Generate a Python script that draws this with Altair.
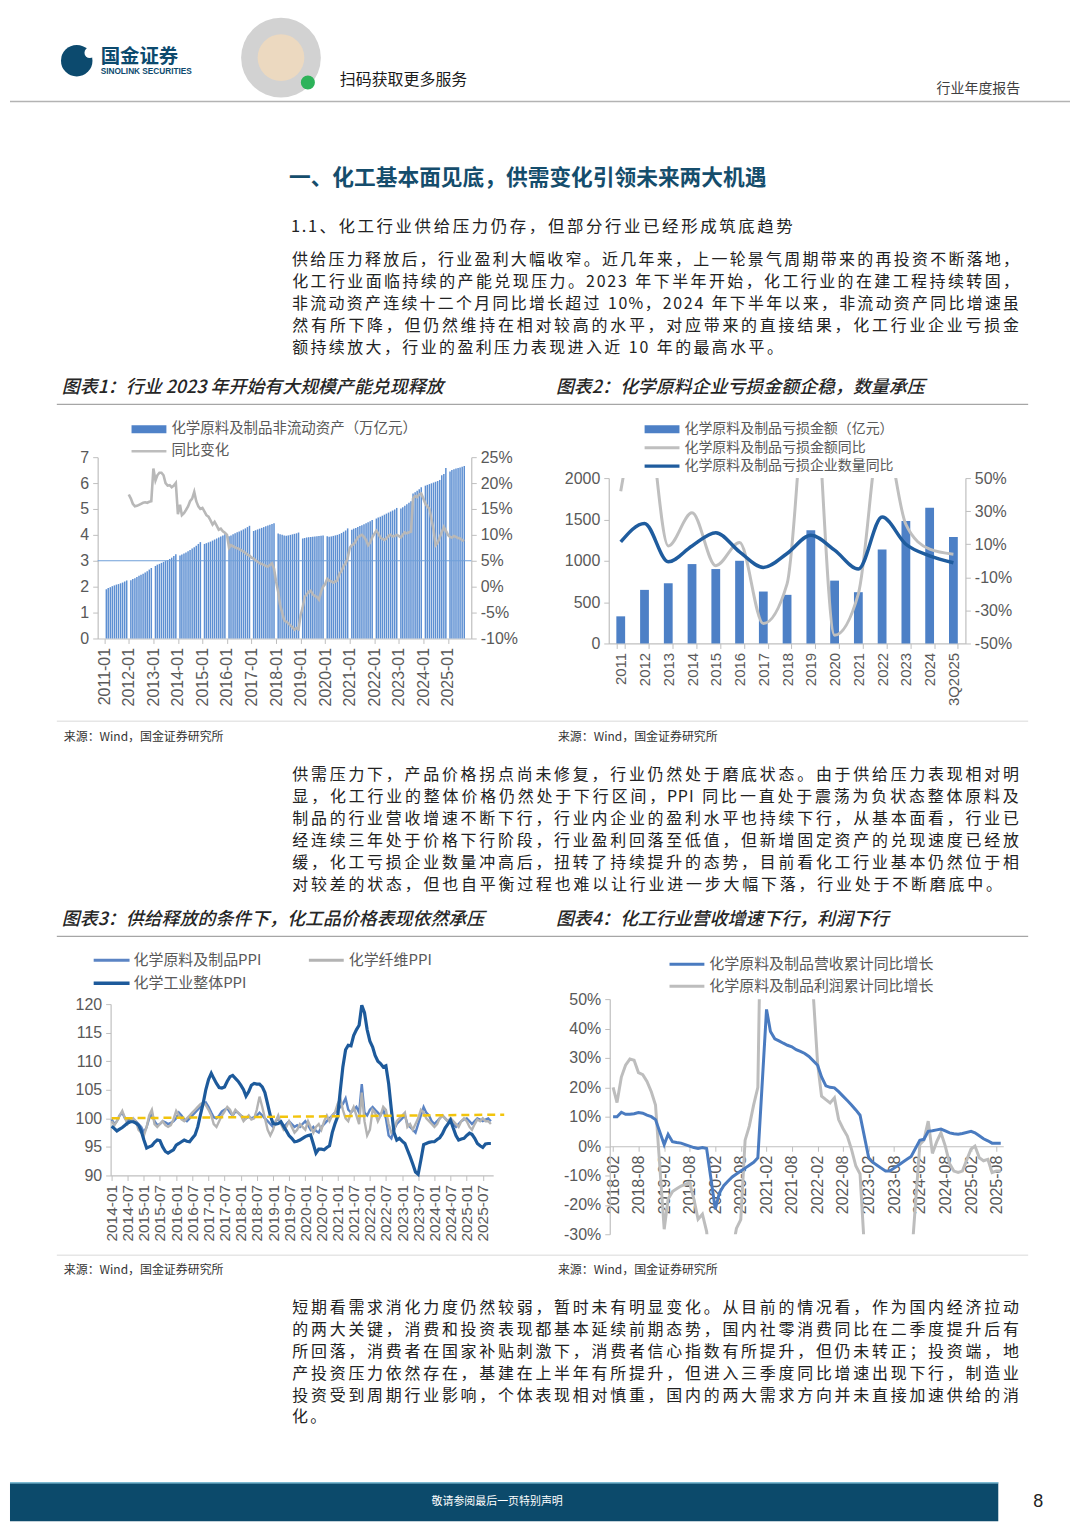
import altair as alt
import pandas as pd

CN = "Noto Sans CJK SC"
NUM = "Liberation Sans"
LBL = "#595959"
AXC = "#bfbfbf"
INK = "#222222"

# ------------------------------------------------------------------ page text
title_text = "一、化工基本面见底，供需变化引领未来两大机遇"
subtitle_text = "1.1、化工行业供给压力仍存，但部分行业已经形成筑底趋势"
para1 = [
    "供给压力释放后，行业盈利大幅收窄。近几年来，上一轮景气周期带来的再投资不断落地，",
    "化工行业面临持续的产能兑现压力。2023 年下半年开始，化工行业的在建工程持续转固，",
    "非流动资产连续十二个月同比增长超过 10%，2024 年下半年以来，非流动资产同比增速虽",
    "然有所下降，但仍然维持在相对较高的水平，对应带来的直接结果，化工行业企业亏损金",
    "额持续放大，行业的盈利压力表现进入近 10 年的最高水平。",
]
para2 = [
    "供需压力下，产品价格拐点尚未修复，行业仍然处于磨底状态。由于供给压力表现相对明",
    "显，化工行业的整体价格仍然处于下行区间，PPI 同比一直处于震荡为负状态整体原料及",
    "制品的行业营收增速不断下行，行业内企业的盈利水平也持续下行，从基本面看，行业已",
    "经连续三年处于价格下行阶段，行业盈利回落至低值，但新增固定资产的兑现速度已经放",
    "缓，化工亏损企业数量冲高后，扭转了持续提升的态势，目前看化工行业基本仍然位于相",
    "对较差的状态，但也自平衡过程也难以让行业进一步大幅下落，行业处于不断磨底中。",
]
para3 = [
    "短期看需求消化力度仍然较弱，暂时未有明显变化。从目前的情况看，作为国内经济拉动",
    "的两大关键，消费和投资表现都基本延续前期态势，国内社零消费同比在二季度提升后有",
    "所回落，消费者在国家补贴刺激下，消费者信心指数有所提升，但仍未转正；投资端，地",
    "产投资压力依然存在，基建在上半年有所提升，但进入三季度同比增速出现下行，制造业",
    "投资受到周期行业影响，个体表现相对慎重，国内的两大需求方向并未直接加速供给的消",
    "化。",
]
cap1 = "图表1：行业 2023 年开始有大规模产能兑现释放"
cap2 = "图表2：化学原料企业亏损金额企稳，数量承压"
cap3 = "图表3：供给释放的条件下，化工品价格表现依然承压"
cap4 = "图表4：化工行业营收增速下行，利润下行"
source_text = "来源：Wind，国金证券研究所"

# ------------------------------------------------------------------ chart 1 data
asset_values = [  # Feb-Dec each year (万亿元)
    1.90, 1.95, 1.98, 2.02, 2.05, 2.08, 2.10, 2.13, 2.16, 2.20, 2.24,  # 2011
    2.25, 2.30, 2.33, 2.37, 2.42, 2.46, 2.50, 2.55, 2.60, 2.66, 2.72,  # 2012
    2.80, 2.85, 2.88, 2.92, 2.96, 3.00, 3.03, 3.07, 3.12, 3.18, 3.25,  # 2013
    3.20, 3.24, 3.28, 3.32, 3.37, 3.42, 3.47, 3.52, 3.58, 3.65, 3.72,  # 2014
    3.65, 3.68, 3.71, 3.74, 3.78, 3.82, 3.86, 3.90, 3.94, 3.98, 4.02,  # 2015
    3.95, 3.98, 4.02, 4.06, 4.10, 4.13, 4.17, 4.21, 4.25, 4.30, 4.35,  # 2016
    4.15, 4.18, 4.21, 4.24, 4.27, 4.30, 4.33, 4.36, 4.39, 4.42, 4.45,  # 2017
    4.05, 4.02, 4.00, 3.98, 3.97, 3.98, 4.00, 4.02, 4.04, 4.06, 4.09,  # 2018
    3.86, 3.88, 3.90, 3.91, 3.92, 3.93, 3.94, 3.95, 3.96, 3.97, 3.98,  # 2019
    3.95, 3.93, 3.94, 3.96, 3.98, 4.00, 4.03, 4.07, 4.12, 4.17, 4.25,  # 2020
    4.20, 4.24, 4.27, 4.30, 4.34, 4.37, 4.41, 4.45, 4.49, 4.53, 4.57,  # 2021
    4.63, 4.67, 4.70, 4.74, 4.78, 4.82, 4.86, 4.90, 4.94, 4.98, 5.04,  # 2022
    5.02, 5.07, 5.12, 5.18, 5.24, 5.30, 5.60, 5.65, 5.70, 5.76, 5.84,  # 2023
    5.90, 5.93, 5.96, 5.99, 6.02, 6.05, 6.08, 6.12, 6.30, 6.35, 6.58,  # 2024
    6.45, 6.50, 6.53, 6.56, 6.58, 6.60, 6.63, 6.66,                    # 2025 Feb-Sep
]
asset_yoy = [  # monthly from 2012-01 (%)
    17.8, 17.0, 16.0, 15.5, 15.6, 15.8, 16.0, 16.2, 16.3, 16.2, 16.4, 16.5,
    22.8, 20.5, 21.5, 22.0, 22.0, 21.5, 20.0, 19.5, 19.6, 19.2, 19.5, 20.0,
    14.0, 15.8, 13.8, 14.2, 14.8, 15.5, 16.5, 17.0, 18.3, 16.5, 15.5, 15.0,
    15.2, 14.5, 13.8, 13.5, 12.8, 12.0, 12.5, 11.8, 11.0, 11.2, 10.7, 10.4,
    10.0, 7.5, 8.0, 7.8, 7.6, 7.4, 7.3, 7.0, 6.8, 6.5, 6.2, 6.0,
    5.6, 5.4, 5.1, 4.8, 4.5, 4.4, 4.2, 4.0, 3.9, 4.2, 4.5, 3.5,
    1.0, -1.0, -3.5, -5.0, -6.5, -6.8, -7.0, -7.5, -7.8, -8.3, -8.0, -8.2,
    -5.5, -4.0, -2.0, -1.5, -1.0, -0.8, -1.5, -1.8, -2.0, -2.5, -1.0, 0.0,
    0.5, 1.5, 1.2, 1.0, 0.8, 1.0, 1.2, 2.5, 3.0, 4.0, 4.5, 5.5,
    7.5, 8.0, 8.2, 8.8, 9.5, 9.8, 10.0, 9.6, 9.0, 8.0, 8.5, 9.5,
    10.2, 10.8, 10.3, 9.5, 9.2, 9.0, 9.3, 9.8, 10.0, 9.7, 9.8, 10.0,
    9.8, 9.5, 10.0, 10.5, 10.3, 10.5, 10.6, 17.0, 17.5, 17.3, 17.8, 18.0,
    17.0, 16.0, 15.5, 15.0, 13.0, 11.0, 8.0, 8.5, 9.5, 10.5, 11.5, 10.8,
    10.0, 9.6, 9.5, 9.8, 9.6, 9.4, 9.3, 9.0, 8.8,
]
ref_line_value = [3]

# ------------------------------------------------------------------ chart 2 data
years2 = ["2011", "2012", "2013", "2014", "2015", "2016", "2017", "2018",
          "2019", "2020", "2021", "2022", "2023", "2024", "3Q2025"]
loss_amount = [328, 648, 728, 960, 900, 1000, 628, 588, 1368, 760, 620, 1136, 1480, 1640, 1288]
loss_amount_yoy = [42, 98, 9, 29, -3, 11, -38, -14, 130, -45, -20, 83, 22, 7, 4]
loss_count_yoy = [11.4, 22.6, -0.6, 9.0, 17.0, 5.4, -4.0, 4.4, 15.4, 6.4, -5.0, 26.4, 10.0, 3.0, -1.2]

# ------------------------------------------------------------------ chart 3 data (monthly from 2014-01)
ppi_raw = [
    99.8, 99.0, 99.5, 100.5, 101.0, 100.0, 99.5, 100.0, 99.8, 99.5, 99.0, 98.5,
    97.5, 98.5, 100.0, 100.8, 99.5, 98.8, 99.0, 99.5, 99.3, 99.0, 99.2, 99.5,
    100.0, 101.0, 100.5, 99.8, 99.5, 100.0, 100.5, 101.0, 101.5, 102.0, 102.5, 102.8,
    102.0, 101.0, 100.2, 100.0, 100.5, 101.2, 101.5, 101.8, 101.0, 100.5, 101.2, 101.0,
    100.5, 100.2, 100.0, 100.3, 100.0, 100.2, 100.5, 101.0, 100.5, 100.0, 99.5, 99.0,
    98.5, 99.5, 100.0, 99.2, 98.5, 99.0, 99.5, 99.0, 98.5, 98.8, 98.5, 99.0,
    99.5, 98.8, 98.0, 98.5, 97.8, 97.5, 98.5, 99.0, 99.5, 100.0, 100.5, 101.0,
    101.5, 102.0, 102.5, 103.5, 101.5, 101.0, 101.5, 102.0, 101.0, 106.0, 101.0, 100.5,
    101.5, 102.0, 101.5, 101.0, 100.5, 101.5, 100.0, 97.0, 96.5, 98.0, 99.0, 99.5,
    100.0, 100.5, 99.0, 98.5, 98.0, 97.5, 99.0, 100.5, 102.0, 101.0, 100.5, 99.5,
    99.0, 99.5, 100.0, 100.5, 100.0, 99.5, 99.5, 99.0, 98.5, 99.0, 99.5, 99.8,
    100.0, 99.5, 99.0, 99.5, 100.0, 99.8, 99.5, 99.8, 100.0, 99.5,
]
ppi_fiber = [
    99.5, 98.8, 99.5, 100.5, 101.3, 100.0, 99.0, 99.5, 100.0, 99.5, 98.0, 97.5,
    97.0, 98.5, 100.5, 101.5, 99.0, 98.5, 99.0, 99.5, 98.8, 98.5, 98.8, 99.8,
    101.3, 100.5, 99.8, 99.5, 100.0, 100.5, 101.0, 101.5, 102.0, 102.5, 102.8, 102.3,
    101.5, 100.5, 99.0, 98.5, 99.5, 100.5, 101.2, 102.0, 101.5, 100.5, 101.5, 101.0,
    100.5, 99.5, 100.0, 100.5, 99.8, 100.0, 101.5, 103.8, 102.0, 100.0, 98.0, 97.0,
    98.0, 99.5, 100.5, 99.0, 98.0, 98.5, 99.5, 98.5, 97.5, 98.0, 99.0, 98.5,
    98.0, 99.5, 98.5, 97.5, 98.5, 99.0, 98.0, 99.5, 100.5, 99.5, 100.5, 101.0,
    102.5, 103.5, 101.5, 100.0, 99.5, 101.0, 102.0, 100.5, 99.0, 104.5, 99.5, 97.0,
    98.0, 101.5, 101.0, 99.5, 100.5, 102.0, 101.5, 99.0, 97.5, 98.0, 99.5, 100.0,
    100.5, 101.0, 98.5, 99.0, 98.0, 99.0, 100.0, 101.5, 101.0, 100.0, 99.5, 99.0,
    98.5, 99.0, 100.0, 100.5, 100.0, 99.5, 100.0, 99.5, 99.0, 98.5, 99.5, 100.0,
    99.5, 98.5, 98.0, 99.0, 99.8, 99.5, 100.0, 99.5, 99.5, 99.0,
]
ppi_total = [
    98.6, 98.2, 97.8, 98.1, 98.4, 98.8, 99.2, 99.4, 99.4, 99.2, 98.8, 97.8,
    96.2, 94.8, 95.0, 95.2, 95.8, 96.2, 96.1, 95.0, 94.2, 93.9, 94.2, 94.5,
    95.3, 95.6, 95.9, 96.2, 96.0, 95.9, 96.5, 97.1, 98.5, 100.6, 102.6, 105.0,
    106.8, 107.9, 107.0, 106.1, 105.4, 105.3, 105.5, 106.5, 107.3, 107.5, 107.0, 106.5,
    105.8, 105.0, 103.9, 104.7, 105.8, 106.1, 106.0, 106.0, 105.5, 104.5, 102.5, 100.5,
    99.1, 99.0, 99.1, 99.4, 98.6, 97.8, 97.0, 96.5, 95.9, 96.0, 96.2, 96.5,
    96.8, 97.0, 97.1, 95.5, 93.9, 94.6, 94.6, 94.5, 94.9, 95.2, 97.5, 99.0,
    100.3, 105.0, 109.0, 112.0, 112.8, 112.7, 114.5, 115.5, 116.3, 119.8, 118.5, 115.5,
    113.5, 112.5, 111.0, 110.0, 109.6, 109.0, 109.2, 106.1, 101.5, 97.5, 96.2, 96.5,
    96.0, 95.6, 94.5, 93.3, 92.0, 90.6, 90.2, 92.7, 95.4, 95.6, 95.8, 95.9,
    95.9, 96.3, 96.6, 97.3, 98.3, 99.0, 99.7, 98.3, 97.0, 96.2, 96.4, 96.5,
    97.0, 97.4, 97.2, 96.5, 95.6, 95.2, 94.9, 95.5, 95.6, 95.6,
]
ppi_base_dates = ["2014-01-01", "2026-03-01"]
ppi_base_values = [100.0, 100.65]

# ------------------------------------------------------------------ chart 4 data (Feb-Dec each year from 2018-02)
revenue_yoy = [
    10.0, 10.0, 11.5, 10.8, 10.8, 11.0, 11.4, 11.2, 10.5, 10.0, 9.0,
    0.5, 4.0, 1.5, 1.2, 1.0, 0.5, 0.0, -0.5, -0.8, -0.5, -0.8,
    -21.5, -16.0, -13.5, -12.0, -10.5, -9.5, -8.5, -7.5, -6.5, -5.5, -4.0,
    46.5, 39.0, 36.5, 35.8, 35.0, 34.3, 33.8, 32.8, 32.2, 31.5, 30.5,
    27.5, 23.5, 20.5, 20.0, 19.8, 18.5, 17.0, 15.5, 14.0, 12.3, 10.5,
    -4.0, -5.5, -6.5, -7.5, -8.5, -8.5, -7.5, -6.5, -5.5, -4.5, -3.5,
    2.0, 2.3, 5.0, 5.2, 5.5, 5.8, 5.2, 4.5, 4.2, 4.0, 4.3,
    5.0, 4.5, 3.5, 2.5, 1.8, 1.0, 1.0, 1.0,
]
profit_yoy = [
    20.0, 14.8, 23.5, 27.5, 29.6, 29.2, 25.0, 24.3, 22.0, 18.5, 14.0,
    -28.3, -18.0, -15.5, -14.5, -13.6, -13.0, -12.4, -18.0, -24.9, -23.2, -29.0,
    -60.0, -55.0, -48.0, -42.0, -36.0, -28.0, -25.0, 2.0, 6.8, 14.0, 20.0,
    200.0, 150.0, 130.0, 120.0, 110.0, 100.0, 95.0, 90.0, 85.0, 80.0, 75.0,
    28.0, 17.0, 15.8, 14.7, 16.4, 9.0, 6.0, 3.4, -1.1, -6.8, -9.5,
    -60.0, -55.0, -52.0, -50.0, -48.0, -45.0, -42.0, -40.0, -38.0, -38.0, -40.0,
    0.5, 2.0, 8.5, -2.5, 1.5, 4.5, 0.0, -6.0, -8.5, -9.0, -8.5,
    -1.0, 0.0, -4.0, -5.0, -4.5, -9.0, -8.5, -8.5,
]


# ------------------------------------------------------------------ helpers
def months_no_jan(start_year, n):
    out, y, m = [], start_year, 2
    while len(out) < n:
        out.append(pd.Timestamp(year=y, month=m, day=1))
        m += 1
        if m > 12:
            y, m = y + 1, 2
    return out


def dt(y, m, d=1):
    return alt.DateTime(year=y, month=m, date=d)


ONE = pd.DataFrame({"a": [0]})


def txt(s, x, y, size=15, color=LBL, font=CN, align="left", weight="normal", style="normal"):
    return alt.Chart(pd.DataFrame({"t": [s]})).mark_text(
        align=align, baseline="middle", font=font, fontSize=size, color=color,
        fontWeight=weight, fontStyle=style,
    ).encode(x=alt.value(x), y=alt.value(y), text="t:N")


def hline(x1, x2, y, color, width=1.0):
    return alt.Chart(ONE).mark_rule(color=color, strokeWidth=width).encode(
        x=alt.value(x1), x2=alt.value(x2), y=alt.value(y))


def box(x1, x2, y1, y2, color):
    return alt.Chart(ONE).mark_rect(color=color).encode(
        x=alt.value(x1), x2=alt.value(x2), y=alt.value(y1), y2=alt.value(y2))


def dot(x, y, size, color):
    return alt.Chart(ONE).mark_point(filled=True, shape="circle", size=size, color=color, opacity=1,
                                     strokeWidth=0).encode(x=alt.value(x), y=alt.value(y))


def char_weight(c):
    if c == " ":
        return 0.35
    if c == "%":
        return 0.85
    if c in "I.":
        return 0.32
    if ord(c) < 128:
        return 0.58
    return 1.0


def layout_lines(lines, x0, ends, ys):
    rows = []
    for line, x1, y in zip(lines, ends, ys):
        ws = [char_weight(c) for c in line]
        pitch = (x1 - x0) / sum(ws)
        cum = 0.0
        for c, w in zip(line, ws):
            if c != " ":
                rows.append({"x": x0 + (cum + w / 2) * pitch, "y": y, "ch": c})
            cum += w
    return pd.DataFrame(rows)


def char_layer(df, size=16, color=INK, weight="normal"):
    return alt.Chart(df).mark_text(
        align="center", baseline="middle", font=CN, fontSize=size, color=color, fontWeight=weight,
    ).encode(x=alt.X("x:Q", scale=None, axis=None), y=alt.Y("y:Q", scale=None, axis=None), text="ch:N")


def ax_kw(size, orient):
    return dict(orient=orient, grid=False, domainColor=AXC, tickColor=AXC, tickSize=5,
                labelColor=LBL, labelFont=NUM, labelFontSize=size, labelOverlap=False,
                labelFlush=False, labelPadding=4, domainWidth=1.2)


def spacer(w, top=0, bottom=0):
    return alt.Chart(ONE).mark_rule(color="white", strokeWidth=0.001).encode(
        x=alt.value(1), y=alt.value(top), y2=alt.value(bottom)).properties(width=w, height=10)


def caption_block(cap, x0, y_cap, line_x1, line_x2, y_line, y_src_line, y_src):
    return [
        txt(cap, x0, y_cap, size=18, color="#262626", weight=500, style="italic"),
        hline(line_x1, line_x2, y_line, "#a6a6a6", 1.3),
        hline(line_x1, line_x2, y_src_line, "#d9d9d9", 1.0),
        txt(source_text, x0 + 2, y_src, size=12, color="#333333"),
    ]


# ------------------------------------------------------------------ chart 1
W1, H1 = 375, 161
df1_bar = pd.DataFrame({"date": months_no_jan(2011, len(asset_values)), "v": asset_values})
df1_line = pd.DataFrame({"date": pd.date_range("2012-01-01", periods=len(asset_yoy), freq="MS"), "v": asset_yoy})
df1_ref = pd.DataFrame({"v": ref_line_value})

X1 = alt.X("date:T", title=None,
           scale=alt.Scale(domain=[dt(2010, 12, 8), dt(2025, 10, 1)]),
           axis=alt.Axis(values=[dt(y, 1) for y in range(2011, 2026)], format="%Y-%m",
                         labelAngle=-90, **ax_kw(16, "bottom")))
Y1L = alt.Y("v:Q", title=None, scale=alt.Scale(domain=[0, 7], range=[H1, -21], nice=False),
            axis=alt.Axis(values=list(range(8)), **ax_kw(16, "left")))
bars1 = alt.Chart(df1_bar).mark_bar(size=1.5, color="#5d8fd2").encode(x=X1, y=Y1L)
rule1 = alt.Chart(df1_ref).mark_rule(color="#6f9fd8", strokeWidth=1.2).encode(y=Y1L)
line1 = alt.Chart(df1_line).mark_line(color="#b8b8b8", strokeWidth=2.6).encode(
    x=X1,
    y=alt.Y("v:Q", title=None, scale=alt.Scale(domain=[-10, 25], range=[H1, -21], nice=False, zero=False),
            axis=alt.Axis(values=[-10, -5, 0, 5, 10, 15, 20, 25], labelExpr="datum.value + '%'",
                          **ax_kw(16, "right"))))
legend1 = [
    box(34, 69, -53, -45, "#4f82c8"), txt("化学原料及制品非流动资产（万亿元）", 74, -49, size=14.5),
    hline(34, 69, -27, "#bdbdbd", 2.5), txt("同比变化", 74, -27, size=14.5),
]
chart1 = alt.layer(
    alt.layer(bars1, rule1), line1, *legend1,
    *caption_block(cap1, -36, -90, -41, 934, -74, 244, 260),
).resolve_scale(y="independent").properties(width=W1, height=H1)

# ------------------------------------------------------------------ chart 2
W2, H2 = 358, 166
df2 = pd.DataFrame({"year": years2, "amount": loss_amount, "amt_yoy": loss_amount_yoy, "cnt_yoy": loss_count_yoy})
X2 = alt.X("year:N", sort=years2, title=None,
           scale=alt.Scale(type="band", paddingInner=0.63, paddingOuter=0.32),
           axis=alt.Axis(labelAngle=-90, tickBand="extent", **ax_kw(15, "bottom")))
bars2 = alt.Chart(df2).mark_bar(color="#4d80c6").encode(
    x=X2,
    y=alt.Y("amount:Q", title=None, scale=alt.Scale(domain=[0, 2000], nice=False),
            axis=alt.Axis(values=[0, 500, 1000, 1500, 2000], format="d", **ax_kw(16, "left"))))
Y2R_scale = alt.Scale(domain=[-50, 50], nice=False, zero=False)
Y2R_axis = alt.Axis(values=[-50, -30, -10, 10, 30, 50], labelExpr="datum.value + '%'", **ax_kw(16, "right"))
gray2 = alt.Chart(df2).mark_line(color="#bfbfbf", strokeWidth=3, interpolate="monotone", clip=True).encode(
    x=X2, y=alt.Y("amt_yoy:Q", title=None, scale=Y2R_scale, axis=Y2R_axis))
blue2 = alt.Chart(df2).mark_line(color="#1f5c9e", strokeWidth=3.5, interpolate="monotone", clip=True).encode(
    x=X2, y=alt.Y("cnt_yoy:Q", title=None, scale=Y2R_scale, axis=Y2R_axis))
legend2 = [
    box(36, 71, -53, -45, "#4d80c6"), txt("化学原料及制品亏损金额（亿元）", 76, -49, size=14),
    hline(36, 71, -30.5, "#bfbfbf", 3), txt("化学原料及制品亏损金额同比", 76, -30.5, size=14),
    hline(36, 71, -12, "#1f5c9e", 3.5), txt("化学原料及制品亏损企业数量同比", 76, -12, size=14),
]
chart2 = alt.layer(
    bars2, alt.layer(gray2, blue2), *legend2,
    txt(cap2, -53, -90, size=18, color="#262626", weight=500, style="italic"),
    txt(source_text, -51, 260, size=12, color="#333333"),
).resolve_scale(y="independent").properties(width=W2, height=H2)

# ------------------------------------------------------------------ chart 3
W3, H3 = 384, 177
df3 = pd.DataFrame({
    "date": pd.date_range("2014-01-01", periods=len(ppi_total), freq="MS"),
    "raw": ppi_raw[:len(ppi_total)], "fiber": ppi_fiber[:len(ppi_total)], "total": ppi_total,
})
df3b = pd.DataFrame({"date": pd.to_datetime(ppi_base_dates), "v": ppi_base_values})
X3 = alt.X("date:T", title=None,
           scale=alt.Scale(domain=[dt(2013, 12, 20), dt(2025, 10, 27)]),
           axis=alt.Axis(values=[dt(y, m) for y in range(2014, 2026) for m in (1, 7)], format="%Y-%m",
                         labelAngle=-90, **ax_kw(15.5, "bottom")))
Y3_scale = alt.Scale(domain=[90, 120], range=[H3, 5], nice=False, zero=False)
Y3_axis = alt.Axis(values=[90, 95, 100, 105, 110, 115, 120], **ax_kw(16, "left"))
raw3 = alt.Chart(df3).mark_line(color="#5b84c4", strokeWidth=2.4).encode(
    x=X3, y=alt.Y("raw:Q", title=None, scale=Y3_scale, axis=Y3_axis))
fiber3 = alt.Chart(df3).mark_line(color="#b3b3b3", strokeWidth=2.4).encode(
    x=X3, y=alt.Y("fiber:Q", title=None, scale=Y3_scale, axis=Y3_axis))
total3 = alt.Chart(df3).mark_line(color="#1d5a9b", strokeWidth=3.2).encode(
    x=X3, y=alt.Y("total:Q", title=None, scale=Y3_scale, axis=Y3_axis))
base3 = alt.Chart(df3b).mark_line(color="#f2c40c", strokeWidth=2.5, strokeDash=[8, 5]).encode(
    x=X3, y=alt.Y("v:Q", title=None, scale=Y3_scale, axis=Y3_axis))
legend3 = [
    hline(-17, 19, -39, "#5b84c4", 3), txt("化学原料及制品PPI", 23, -39),
    hline(199, 234, -39, "#b3b3b3", 3), txt("化学纤维PPI", 239, -39),
    hline(-17, 19, -16, "#1d5a9b", 3.5), txt("化学工业整体PPI", 23, -16),
]
chart3 = alt.layer(
    raw3, fiber3, total3, base3, *legend3,
    *caption_block(cap3, -49, -79, -54, 921, -63, 257, 272),
).properties(width=W3, height=H3)

# ------------------------------------------------------------------ chart 4
W4, H4 = 395, 236
df4 = pd.DataFrame({"date": months_no_jan(2018, len(revenue_yoy)), "rev": revenue_yoy,
                    "profit": profit_yoy[:len(revenue_yoy)]})
X4 = alt.X("date:T", title=None,
           scale=alt.Scale(domain=[dt(2018, 1, 8), dt(2025, 9, 19)]),
           axis=alt.Axis(values=[dt(y, m) for y in range(2018, 2026) for m in (2, 8)], format="%Y-%m",
                         labelAngle=-90, offset=-88.3, **ax_kw(16, "bottom")))
Y4_scale = alt.Scale(domain=[-30, 50], nice=False, zero=False)
Y4_axis = alt.Axis(values=list(range(-30, 51, 10)), labelExpr="datum.value + '%'", **ax_kw(16, "left"))
profit4 = alt.Chart(df4).mark_line(color="#bdbdbd", strokeWidth=3, clip=True).encode(
    x=X4, y=alt.Y("profit:Q", title=None, scale=Y4_scale, axis=Y4_axis))
rev4 = alt.Chart(df4).mark_line(color="#4a7bc0", strokeWidth=3, clip=True).encode(
    x=X4, y=alt.Y("rev:Q", title=None, scale=Y4_scale, axis=Y4_axis))
legend4 = [
    hline(60, 95, -35, "#4a7bc0", 3), txt("化学原料及制品营收累计同比增长", 100, -35),
    hline(60, 95, -13, "#bdbdbd", 3), txt("化学原料及制品利润累计同比增长", 100, -13),
]
chart4 = alt.layer(
    profit4, rev4, *legend4,
    txt(cap4, -54, -79, size=18, color="#262626", weight=500, style="italic"),
    txt(source_text, -52, 272, size=12, color="#333333"),
).properties(width=W4, height=H4)

# ------------------------------------------------------------------ text rows (shifted up 3px)
FULL = 1014
S = 3
sub_df = layout_lines([subtitle_text], 281, [787], [219 - S])
p1_df = layout_lines(para1, 282, [FULL, FULL, FULL, FULL, 777], [y - S for y in [252, 274, 296, 318, 340]])
p2_df = layout_lines(para2, 282, [FULL] * 5 + [997], [21, 43, 65, 87, 109, 131])
p3_df = layout_lines(para3, 282, [FULL] * 5 + [318.6], [22, 44, 66, 88, 110, 131])

T1 = alt.layer(
    hline(0, 1064, 93 - S, "#b3b3b3", 1.5),
    dot(67, 52 - S, 1000, "#0c4a6e"), dot(80, 44 - S, 110, "white"),
    txt("国金证券", 91, 48 - S, size=19.5, color="#0c4a6e", weight="bold"),
    txt("SINOLINK SECURITIES", 91, 63 - S, size=8.3, color="#0c4a6e", font=NUM, weight="bold"),
    dot(272, 46, 6400, "#d2d2d2"), dot(272, 46, 2200, "#ecd9c0"), dot(299, 71, 200, "#2db35a"),
    txt("扫码获取更多服务", 331, 71 - S, size=16, color="#1a1a1a"),
    txt("行业年度报告", 1014, 80 - S, size=14, color="#404040", align="right"),
    txt(title_text, 280, 170 - S, size=21.8, color="#154d6c", weight="bold"),
    char_layer(sub_df, size=16.5),
    char_layer(p1_df, size=16),
).properties(width=1064, height=364 - S)

T3 = alt.layer(char_layer(p2_df, size=16)).properties(width=1064, height=150)

T5 = alt.layer(
    char_layer(p3_df, size=16),
    box(0, 992, 197, 236, "#0c4a6b"),
    hline(0, 992, 197.5, "#8fd0e8", 1.2),
    txt("敬请参阅最后一页特别声明", 489, 217, size=11, color="white", align="center"),
    txt("8", 1032, 217, size=18, color=INK, font=NUM, align="center"),
).properties(width=1064, height=236)

R2 = alt.hconcat(spacer(88, -105, 275), chart1, spacer(138), chart2, spacer(105), spacing=0, bounds="flush")
R4 = alt.hconcat(spacer(101, -94, 286), chart3, spacer(117), chart4, spacer(67), spacing=0, bounds="flush")

chart = alt.vconcat(T1, R2, T3, R4, T5, spacing=0, padding=0).configure_view(stroke="transparent")

chart.save("out.html", embed_options={"renderer": "svg", "actions": False})
